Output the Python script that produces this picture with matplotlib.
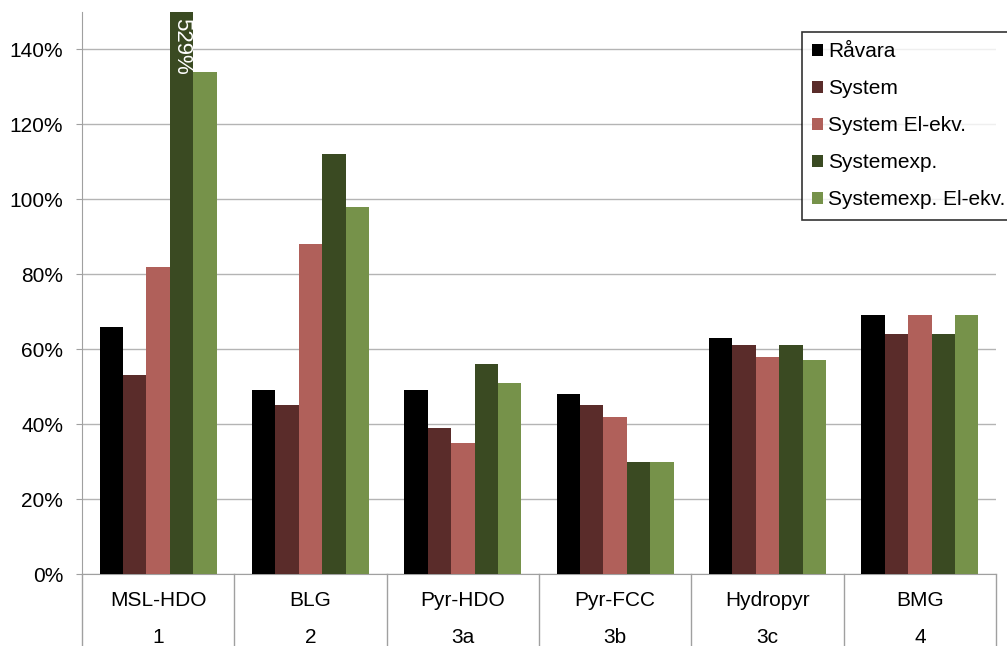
import numpy as np
import matplotlib.pyplot as plt
from matplotlib.patches import Patch
from matplotlib.ticker import FuncFormatter

plt.rcParams['font.family'] = ['Liberation Sans', 'DejaVu Sans']

names = ["MSL-HDO", "BLG", "Pyr-HDO", "Pyr-FCC", "Hydropyr", "BMG"]
numbers = ["1", "2", "3a", "3b", "3c", "4"]
series = ["Råvara", "System", "System El-ekv.", "Systemexp.", "Systemexp. El-ekv."]
colors = ["#000000", "#5a2c2a", "#b0605a", "#3a4a22", "#76924a"]

ravara = [66, 49, 49, 48, 63, 69]
system = [53, 45, 39, 45, 61, 64]
system_el = [82, 88, 35, 42, 58, 69]
systemexp = [529, 112, 56, 30, 61, 64]
systemexp_el = [134, 98, 51, 30, 57, 69]
values = [ravara, system, system_el, systemexp, systemexp_el]

ymax = 150
fs = 15

fig = plt.figure(figsize=(10.07, 6.46), dpi=100)
ax = fig.add_axes([82 / 1007, 72 / 646, 914 / 1007, 562 / 646])

x = np.arange(len(names))
w = 0.77 / 5
for i, (vals, c) in enumerate(zip(values, colors)):
    ax.bar(x - 0.385 + w * (i + 0.5), vals, width=w, color=c, zorder=3)

# bar that runs off the top gets its value written inside
for i, v in enumerate(systemexp):
    if v > ymax:
        ax.text(x[i] - 0.385 + w * 3.5, ymax - 1.5, f"{v}%", rotation=270,
                ha='center', va='top', color='white', fontsize=fs + 1, zorder=4)

ax.set_xlim(-0.5, len(names) - 0.5)
ax.set_ylim(0, ymax)
ax.set_yticks(range(0, 141, 20))
ax.yaxis.set_major_formatter(FuncFormatter(lambda v, p: f"{v:.0f}%"))
ax.tick_params(axis='y', labelsize=fs, length=4.5, color='#a0a0a0', pad=9)
ax.tick_params(axis='x', length=0, labelbottom=False)
ax.grid(axis='y', color='#b4b4b4', linewidth=1, zorder=0)

for s in ['top', 'right']:
    ax.spines[s].set_visible(False)
for s in ['left', 'bottom']:
    ax.spines[s].set_color('#a0a0a0')

# two-row category labels with separators
trans = ax.get_xaxis_transform()
for i in range(len(names)):
    ax.text(x[i], -0.048, names[i], transform=trans, ha='center', va='center', fontsize=fs)
    ax.text(x[i], -0.113, numbers[i], transform=trans, ha='center', va='center', fontsize=fs)
for b in np.arange(-0.5, len(names), 1.0):
    ax.plot([b, b], [0, -0.14], transform=trans, color='#a0a0a0', linewidth=1, clip_on=False)

handles = [Patch(facecolor=c, edgecolor='none') for c in colors]
leg = fig.legend(handles, series, loc='upper left', bbox_to_anchor=(802 / 1007, 1 - 32 / 646),
                 fontsize=fs, frameon=True, fancybox=False, edgecolor='black',
                 handlelength=0.5, handleheight=0.5, handletextpad=0.25,
                 labelspacing=0.86, borderpad=0.5, borderaxespad=0)
leg.get_frame().set_linewidth(1.2)

fig.savefig("out.png", dpi=100)
